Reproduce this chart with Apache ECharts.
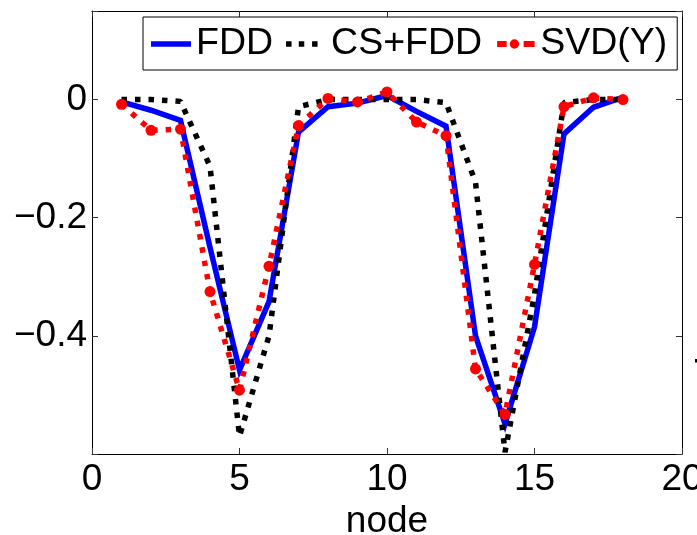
<!DOCTYPE html>
<html>
<head>
<meta charset="utf-8">
<script src="https://cdn.jsdelivr.net/npm/echarts@6/dist/echarts.min.js"></script>
<style>
html,body{margin:0;padding:0;background:#fff;}
#chart{width:697px;height:535px;}
</style>
</head>
<body>
<div id="chart"></div>
<script>
var nodes = [1, 2, 3, 4, 5, 6, 7, 8, 9, 10, 11, 12, 13, 14, 15, 16, 17, 18];
var fdd = [-0.004, -0.018, -0.035, -0.25, -0.458, -0.342, -0.055, -0.012, -0.006, 0.007, -0.02, -0.045, -0.40, -0.549, -0.385, -0.058, -0.013, 0.004];
var csFdd = [0, 0, -0.003, -0.113, -0.57, -0.40, -0.012, 0, 0, 0, 0, -0.005, -0.14, -0.597, -0.33, -0.005, 0, 0];
var svdY = [-0.008, -0.052, -0.05, -0.325, -0.492, -0.282, -0.044, 0.002, -0.004, 0.013, -0.038, -0.061, -0.456, -0.533, -0.279, -0.012, 0.003, 0];
var seriesNames = ['FDD', 'CS+FDD', 'SVD(Y)'];
var yTickLabels = [0, -0.2, -0.4];
var xAxisTitle = 'node';

function pairs(vals) { return nodes.map(function (n, i) { return [n, vals[i]]; }); }

var FONT = '"Liberation Sans", Arial, Helvetica, sans-serif';
var chart = echarts.init(document.getElementById('chart'), null, {renderer: 'canvas'});
var axisLineStyle = {color: '#000', width: 1};
var tickStyle = {color: '#333', width: 1};

// legend icon shapes (40 x 14 box, corners pinned so nothing is rescaled)
var BOX = 'M0,0L0.01,0M40,14L39.99,14';
var iconSolid = 'path://' + BOX + 'M0,4.25L40,4.25L40,9.75L0,9.75Z';
var iconDots = 'path://' + BOX + 'M0,4.25L5.5,4.25L5.5,9.75L0,9.75Z' +
  'M12.7,4.25L18.2,4.25L18.2,9.75L12.7,9.75Z' +
  'M26,4.25L31.5,4.25L31.5,9.75L26,9.75Z';
var iconDotsMarker = 'path://' + BOX + 'M2,4L11.5,4L11.5,10L2,10Z' +
  'M24,7A4.7,4.7,0,1,1,14.6,7A4.7,4.7,0,1,1,24,7Z' +
  'M28.5,4L39.5,4L39.5,10L28.5,10Z';

chart.setOption({
  animation: false,
  backgroundColor: '#fff',
  grid: {left: 92, right: 15, top: 11, bottom: 81, containLabel: false, outerBoundsMode: 'none'},
  legend: {
    left: 143, top: 17,
    orient: 'horizontal',
    data: [
      {name: seriesNames[0], icon: iconSolid},
      {name: seriesNames[1], icon: iconDots},
      {name: seriesNames[2], icon: iconDotsMarker}
    ],
    itemWidth: 40, itemHeight: 14, itemGap: 13,
    padding: [8, 10, 7, 8],
    borderColor: '#000', borderWidth: 1,
    backgroundColor: '#fff',
    textStyle: {fontSize: 37.5, fontFamily: FONT, color: '#000'}
  },
  xAxis: [{
    type: 'value', min: 0, max: 20, interval: 5, position: 'bottom',
    axisLine: {show: true, onZero: false, lineStyle: axisLineStyle},
    axisTick: {show: true, inside: true, length: 6, lineStyle: tickStyle},
    axisLabel: {fontSize: 37, fontFamily: FONT, color: '#000', margin: 7},
    splitLine: {show: false},
    name: xAxisTitle, nameLocation: 'middle', nameGap: 37,
    nameTextStyle: {fontSize: 37, fontFamily: FONT, color: '#000'}
  }, {
    type: 'value', min: 0, max: 20, interval: 5, position: 'top',
    axisLine: {show: true, onZero: false, lineStyle: axisLineStyle},
    axisTick: {show: true, inside: true, length: 6, lineStyle: tickStyle},
    axisLabel: {show: false},
    splitLine: {show: false}
  }],
  yAxis: [{
    type: 'value', min: -0.6, max: 0.15, interval: 0.2, position: 'left',
    axisLine: {show: true, onZero: false, lineStyle: axisLineStyle},
    axisTick: {show: true, inside: true, length: 6, lineStyle: tickStyle},
    axisLabel: {
      fontSize: 37, fontFamily: FONT, color: '#000', margin: 5,
      padding: [9, 0, 0, 0],
      formatter: function (v) {
        for (var i = 0; i < yTickLabels.length; i++) {
          if (Math.abs(v - yTickLabels[i]) < 1e-9) {
            var t = yTickLabels[i];
            return t === 0 ? '0' : '\u2212' + Math.abs(t).toFixed(1);
          }
        }
        return '';
      }
    },
    splitLine: {show: false}
  }, {
    type: 'value', min: -0.6, max: 0.15, interval: 0.2, position: 'right',
    axisLine: {show: true, onZero: false, lineStyle: axisLineStyle},
    axisTick: {show: true, inside: true, length: 6, lineStyle: tickStyle},
    axisLabel: {show: false},
    splitLine: {show: false}
  }],
  series: [{
    name: seriesNames[0], type: 'line', data: pairs(fdd),
    symbol: 'none', color: '#0000ff',
    lineStyle: {color: '#0000ff', width: 5.5, type: 'solid', join: 'miter'}
  }, {
    name: seriesNames[1], type: 'line', data: pairs(csFdd),
    symbol: 'none', color: '#000',
    lineStyle: {color: '#000', width: 5.5, type: [5.5, 8], cap: 'butt'}
  }, {
    name: seriesNames[2], type: 'line', data: pairs(svdY),
    symbol: 'circle', symbolSize: 11, showSymbol: true, color: '#ff0000',
    itemStyle: {color: '#ff0000'},
    lineStyle: {color: '#ff0000', width: 5.5, type: [5.5, 8], cap: 'butt'}
  }],
  graphic: [{
    type: 'rect', shape: {x: 695, y: 359, width: 2.5, height: 3.5},
    style: {fill: '#000'}
  }]
});
</script>
</body>
</html>
